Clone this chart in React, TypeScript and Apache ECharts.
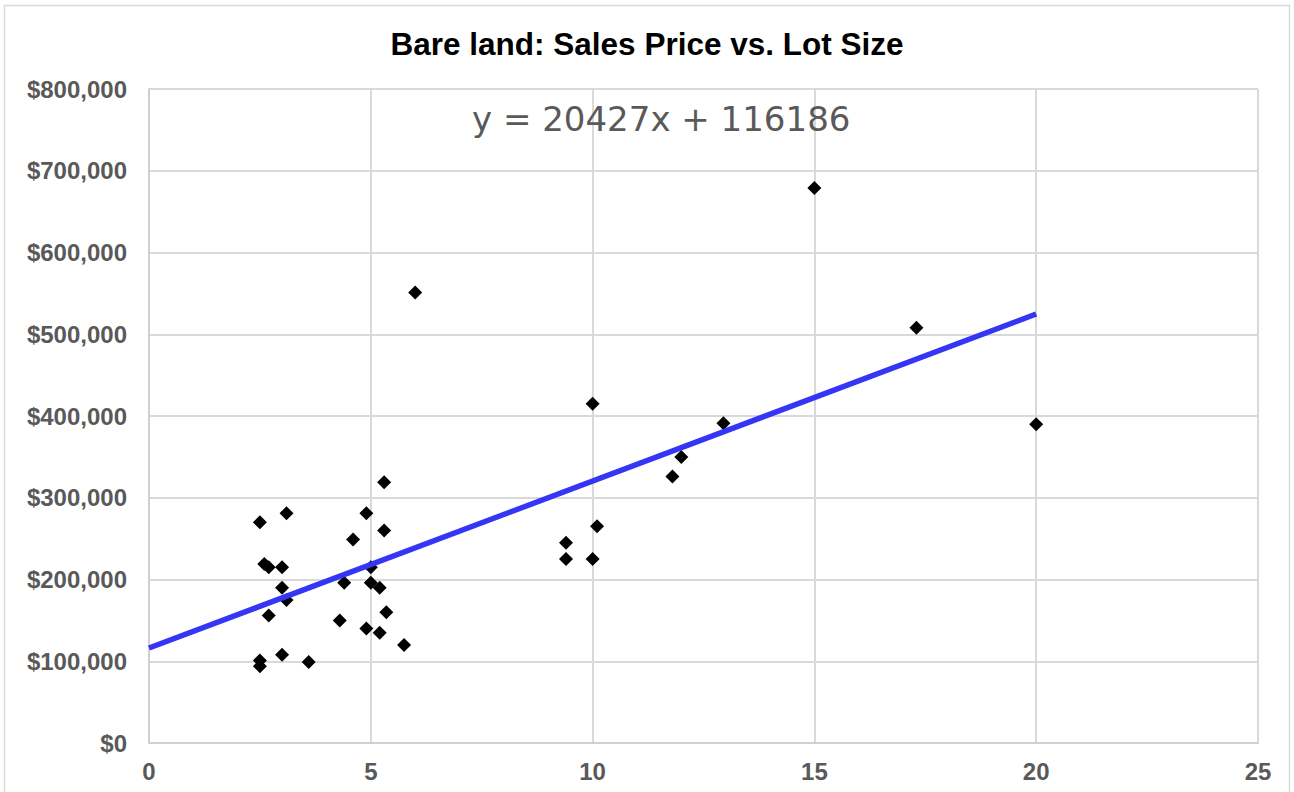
import React, { useEffect, useRef } from "react";
import * as echarts from "echarts";

const titleText = "Bare land: Sales Price vs. Lot Size";
const equationText = "y = 20427x + 116186";
const slope = 20427;
const intercept = 116186;
const trendStart = 0;
const trendEnd = 20;

const lotSize = [
  2.5, 3.1, 4.9, 5.3, 5.3, 4.6, 2.6, 2.7, 3.0, 5.0, 3.0, 3.1, 4.4, 5.0, 5.2, 5.35, 2.7, 4.3, 4.9,
  5.2, 5.75, 3.0, 2.5, 2.5, 3.6, 6.0, 10.0, 12.95, 12.0, 11.8, 10.1, 9.4, 9.4, 10.0, 15.0, 17.3, 20.0,
];
const salesPrice = [
  270000, 281000, 281000, 319000, 260000, 249000, 219000, 215000, 215000, 215000, 190000, 175000,
  196000, 196000, 190000, 160000, 156000, 150000, 140000, 135000, 120000, 108000, 101000, 94000,
  99000, 551000, 415000, 391000, 350000, 326000, 265000, 245000, 225000, 225000, 679000, 508000,
  390000,
];

const xTicks = { min: 0, max: 25, interval: 5 };
const yTicks = { min: 0, max: 800000, interval: 100000 };

export default function App() {
  const ref = useRef<HTMLDivElement>(null);
  useEffect(() => {
    if (!ref.current) return;
    const chart = echarts.init(ref.current, null, { renderer: "svg" });
    const points = lotSize.map((x, i) => [x, salesPrice[i]]);
    const trend = [
      [trendStart, slope * trendStart + intercept],
      [trendEnd, slope * trendEnd + intercept],
    ];
    const labelStyle = {
      color: "#595959",
      fontWeight: "bold" as const,
      fontFamily: "Liberation Sans, Arial, sans-serif",
      fontSize: 24,
    };
    chart.setOption({
      animation: false,
      backgroundColor: "#ffffff",
      title: {
        text: titleText,
        left: "center",
        top: 23,
        textStyle: {
          color: "#000000",
          fontWeight: "bold",
          fontFamily: "Liberation Sans, Arial, sans-serif",
          fontSize: 31.5,
        },
      },
      graphic: [
        {
          type: "rect",
          shape: { x: 4.5, y: 5.5, width: 1285, height: 800 },
          style: { fill: "none", stroke: "#d9d9d9", lineWidth: 1.5 },
          silent: true,
          z: -1,
        },
        {
          type: "text",
          x: 472,
          y: 119,
          style: {
            text: equationText,
            fill: "#595959",
            fontFamily: "DejaVu Sans, sans-serif",
            fontSize: 34,
            verticalAlign: "middle",
            align: "left",
          },
          z: 10,
        },
      ],
      grid: { left: 149, right: 36, top: 89, bottom: 49, containLabel: false },
      xAxis: {
        type: "value",
        min: xTicks.min,
        max: xTicks.max,
        interval: xTicks.interval,
        axisLine: { show: true, lineStyle: { color: "#d0d0d0", width: 2 } },
        axisTick: { show: false },
        axisLabel: { ...labelStyle, margin: 16 },
        splitLine: { show: true, lineStyle: { color: "#d9d9d9", width: 2 } },
      },
      yAxis: {
        type: "value",
        min: yTicks.min,
        max: yTicks.max,
        interval: yTicks.interval,
        axisLine: { show: true, lineStyle: { color: "#d0d0d0", width: 2 } },
        axisTick: { show: false },
        axisLabel: {
          ...labelStyle,
          margin: 22,
          formatter: (v: number) => "$" + v.toLocaleString("en-US"),
        },
        splitLine: { show: true, lineStyle: { color: "#d9d9d9", width: 2 } },
      },
      series: [
        {
          type: "scatter",
          data: points,
          symbol: "diamond",
          symbolSize: 14,
          itemStyle: { color: "#000000", opacity: 1 },
          z: 2,
        },
        {
          type: "line",
          data: trend,
          showSymbol: false,
          symbol: "none",
          lineStyle: { color: "#3535f5", width: 5.5 },
          z: 3,
        },
      ],
    });
    return () => chart.dispose();
  }, []);
  return (
    <div
      ref={ref}
      style={{ position: "fixed", left: 0, top: 0, width: 1294, height: 792 }}
    />
  );
}
